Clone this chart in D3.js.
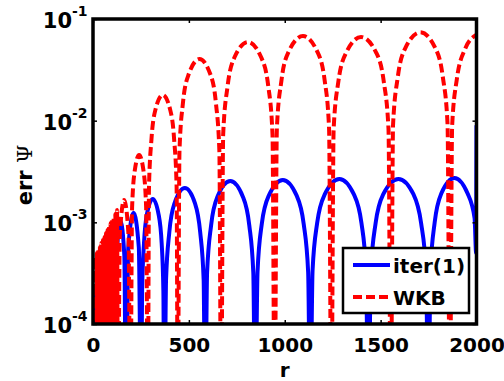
<!DOCTYPE html>
<html>
<head>
<meta charset="utf-8">
<script src="https://cdn.jsdelivr.net/npm/d3@7"></script>
<style>
  body { margin: 0; background: #fff; }
  svg text { font-family: "DejaVu Sans", sans-serif; font-weight: bold; fill: #000; }
</style>
</head>
<body>
<svg id="chart" width="504" height="381"></svg>
<script>
// iter(1) error (1e-5 = dips below the axis)
var iterR = [0, 4.5, 9, 16.5, 24, 31.5, 39, 47, 55, 63, 71, 79, 87, 94, 101, 108, 115,
  123.5, 143.5, 163.5, 172, 184, 211.5, 239, 251,
  256, 266, 281, 312, 342, 358, 367, 372,
  381, 398, 425, 479, 532, 559, 577, 585,
  595, 616, 650, 716, 781, 815, 836, 846,
  858, 880, 918, 990, 1061, 1099, 1122, 1133,
  1145, 1169, 1209, 1285, 1360, 1400, 1424, 1436,
  1449, 1474, 1514, 1593, 1671, 1711, 1737, 1749,
  1760, 1782, 1817, 1885, 1953, 1990, 1998, 2000];
var iterErr = [1e-5, 1.72e-4, 1e-5, 2.02e-4, 1e-5, 2.71e-4, 1e-5, 3.64e-4, 1e-5, 4.67e-4, 1e-5, 5.72e-4, 1e-5, 6.7e-4, 1e-5, 7.34e-4, 1e-5,
  4.68e-4, 1.03e-3, 4.68e-4, 1e-5, 5.63e-4, 1.24e-3, 5.63e-4, 1e-5,
  2.13e-4, 6.26e-4, 1.2e-3, 1.7e-3, 1.2e-3, 6.26e-4, 2.13e-4, 1e-5,
  2.73e-4, 8.02e-4, 1.54e-3, 2.18e-3, 1.54e-3, 8.02e-4, 2.73e-4, 1e-5,
  3.19e-4, 9.38e-4, 1.8e-3, 2.55e-3, 1.8e-3, 9.38e-4, 3.19e-4, 1e-5,
  3.26e-4, 9.6e-4, 1.85e-3, 2.61e-3, 1.85e-3, 9.6e-4, 3.26e-4, 1e-5,
  3.34e-4, 9.83e-4, 1.89e-3, 2.67e-3, 1.89e-3, 9.83e-4, 3.34e-4, 1e-5,
  3.34e-4, 9.83e-4, 1.89e-3, 2.67e-3, 1.89e-3, 9.83e-4, 3.34e-4, 1e-5,
  3.41e-4, 1.0e-3, 1.93e-3, 2.73e-3, 1.93e-3, 1.1e-3, 5e-4, 9e-3];

// WKB error
var wkbR = [0, 4, 8, 12, 16, 20, 24, 28, 32, 36, 40, 44, 48, 52, 56, 60, 64, 68, 72, 76, 80, 84, 88, 92, 96,
  100, 104, 108, 112, 116.5, 121, 125.5, 130,
  140, 162.5, 185, 195,
  204, 218, 240.5, 263, 277, 286,
  292, 305, 325, 364, 403, 423, 436, 442,
  451, 469, 499, 555, 612, 641, 659, 668,
  679, 702, 738, 808, 877, 914, 936, 947,
  959, 983, 1021, 1095, 1169, 1208, 1231, 1243,
  1255, 1280, 1321, 1398, 1476, 1516, 1541, 1553,
  1565, 1590, 1630, 1707, 1784, 1824, 1849, 1861,
  1873, 1898, 1939, 2000];
var wkbErr = [1e-5, 4.46e-4, 1e-5, 4.67e-4, 1e-5, 4.99e-4, 1e-5, 5.34e-4, 1e-5, 5.72e-4, 1e-5, 6.26e-4, 1e-5,
  6.7e-4, 1e-5, 7.18e-4, 1e-5, 7.85e-4, 1e-5, 8.41e-4, 1e-5, 9.0e-4, 1e-5, 9.86e-4, 1e-5,
  1.05e-3, 1e-5, 1.13e-3, 1e-5, 1.21e-3, 1e-5, 1.32e-3, 1e-5,
  7.54e-4, 1.66e-3, 7.54e-4, 1e-5,
  1.42e-3, 3.25e-3, 4.6e-3, 3.25e-3, 1.42e-3, 1e-5,
  2.24e-3, 6.59e-3, 1.27e-2, 1.79e-2, 1.27e-2, 6.59e-3, 2.24e-3, 1e-5,
  5.05e-3, 1.49e-2, 2.86e-2, 4.04e-2, 2.86e-2, 1.49e-2, 5.05e-3, 1e-5,
  7.43e-3, 2.19e-2, 4.2e-2, 5.94e-2, 4.2e-2, 2.19e-2, 7.43e-3, 1e-5,
  8.5e-3, 2.5e-2, 4.81e-2, 6.8e-2, 4.81e-2, 2.5e-2, 8.5e-3, 1e-5,
  8.31e-3, 2.45e-2, 4.7e-2, 6.65e-2, 4.7e-2, 2.45e-2, 8.31e-3, 1e-5,
  9.25e-3, 2.72e-2, 5.23e-2, 7.4e-2, 5.23e-2, 2.72e-2, 9.25e-3, 1e-5,
  8.9e-3, 2.6e-2, 5.0e-2, 7.0e-2];

var xTicks = [0, 500, 1000, 1500, 2000];
var yTicks = [1e-4, 1e-3, 1e-2, 1e-1];
var yTickExp = ["-4", "-3", "-2", "-1"];
var seriesNames = ["iter(1)", "WKB"];

(function () {
  var pLeft = 93, pRight = 476.5, pTop = 19, pBottom = 324;
  var svg = d3.select("#chart");

  var x = d3.scaleLinear().domain([0, 2000]).range([pLeft, pRight]);
  var y = d3.scaleLog().domain([1e-4, 1e-1]).range([pBottom, pTop]);

  svg.append("rect").attr("width", 504).attr("height", 381).attr("fill", "#fff");

  svg.append("clipPath").attr("id", "plotclip")
    .append("rect").attr("x", pLeft).attr("y", pTop)
    .attr("width", pRight - pLeft).attr("height", pBottom - pTop);

  var line = d3.line()
    .x(function(d) { return x(d[0]); })
    .y(function(d) { return y(d[1]); })
    .curve(d3.curveMonotoneX);

  var iterData = iterR.map(function(r, i) { return [r, iterErr[i]]; });
  var wkbData = wkbR.map(function(r, i) { return [r, wkbErr[i]]; });

  var plot = svg.append("g").attr("clip-path", "url(#plotclip)");
  plot.append("path").attr("d", line(iterData))
    .attr("fill", "none").attr("stroke", "#0000ff").attr("stroke-width", 4)
    .attr("stroke-linejoin", "round");
  plot.append("path").attr("d", line(wkbData))
    .attr("fill", "none").attr("stroke", "#ff0000").attr("stroke-width", 4)
    .attr("stroke-dasharray", "9,4");

  // axes, ticks inward on all four sides
  var xAxisB = d3.axisBottom(x).tickValues(xTicks).tickSizeInner(-4).tickSizeOuter(0).tickFormat(d3.format("d"));
  var xAxisT = d3.axisTop(x).tickValues(xTicks).tickSizeInner(-4).tickSizeOuter(0).tickFormat("");
  var yAxisL = d3.axisLeft(y).tickValues(yTicks).tickSizeInner(-4).tickSizeOuter(0).tickFormat("");
  var yAxisR = d3.axisRight(y).tickValues(yTicks).tickSizeInner(-4).tickSizeOuter(0).tickFormat("");

  var gx = svg.append("g").attr("transform", "translate(0," + pBottom + ")").call(xAxisB);
  gx.selectAll("text").attr("font-size", 20).attr("dy", null).attr("y", 28);
  svg.append("g").attr("transform", "translate(0," + pTop + ")").call(xAxisT);
  svg.append("g").attr("transform", "translate(" + pLeft + ",0)").call(yAxisL);
  svg.append("g").attr("transform", "translate(" + pRight + ",0)").call(yAxisR);
  svg.selectAll(".domain").remove();
  svg.selectAll(".tick line").attr("stroke", "#000").attr("stroke-width", 1.5);
  svg.selectAll(".tick text").attr("font-family", null);

  svg.append("rect").attr("x", pLeft).attr("y", pTop)
    .attr("width", pRight - pLeft).attr("height", pBottom - pTop)
    .attr("fill", "none").attr("stroke", "#000").attr("stroke-width", 3.5);

  // y tick labels 10^n
  var yl = svg.append("g").selectAll("g").data(yTicks).enter().append("g");
  yl.append("text").attr("x", 72).attr("y", function(d) { return y(d) + 9; })
    .attr("text-anchor", "end").attr("font-size", 21).text("10");
  yl.append("text").attr("x", 72).attr("y", function(d) { return y(d) - 3; })
    .attr("font-size", 14).text(function(d, i) { return yTickExp[i]; });

  // axis labels
  svg.append("text").attr("x", x(1000)).attr("y", 377).attr("text-anchor", "middle")
    .attr("font-size", 20).text("r");
  var ylab = svg.append("text").attr("transform", "translate(32,175) rotate(-90)")
    .attr("text-anchor", "middle").attr("font-size", 21);
  ylab.append("tspan").text("err ");
  ylab.append("tspan").attr("font-family", "DejaVu Serif").attr("font-weight", "normal").text("\u03A8");

  // legend
  var lg = svg.append("g");
  lg.append("rect").attr("x", 343).attr("y", 248).attr("width", 126).attr("height", 65)
    .attr("fill", "#fff").attr("stroke", "#000").attr("stroke-width", 2.5);
  var legendStyle = [{ c: "#0000ff", dash: null, y: 265 }, { c: "#ff0000", dash: "9,4", y: 297 }];
  legendStyle.forEach(function(s, i) {
    lg.append("line").attr("x1", 353).attr("x2", 390).attr("y1", s.y).attr("y2", s.y)
      .attr("stroke", s.c).attr("stroke-width", 4).attr("stroke-dasharray", s.dash);
    lg.append("text").attr("x", 393).attr("y", s.y + 8).attr("font-size", 20).text(seriesNames[i]);
  });
})();
</script>
</body>
</html>
